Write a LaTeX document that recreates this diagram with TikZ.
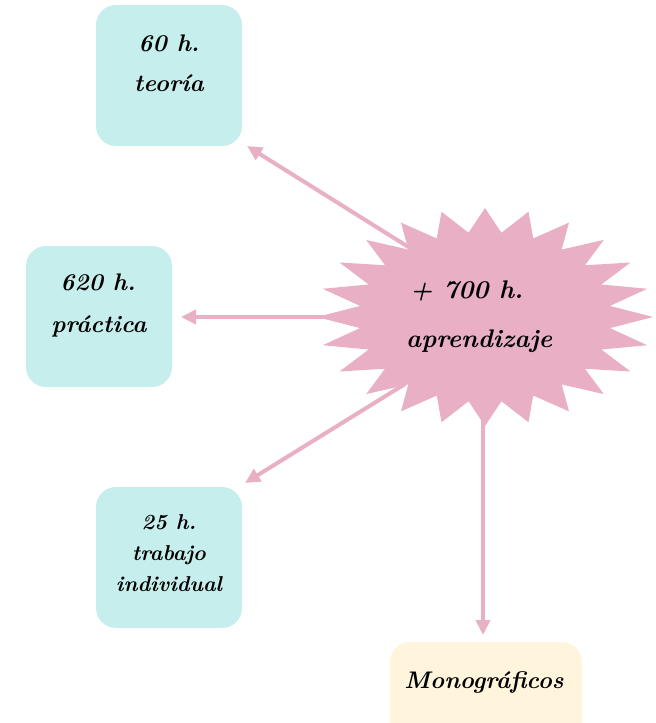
\documentclass[tikz,border=0pt]{standalone}
\usepackage{fontspec}
\usetikzlibrary{arrows.meta,calc}
\definecolor{boxcyan}{HTML}{C6EEEC}
\definecolor{starpink}{HTML}{E8AFC5}
\definecolor{boxyellow}{HTML}{FFF5DD}
\tikzset{
  box/.style={fill=boxcyan, rounded corners=20pt, minimum width=146pt, minimum height=141pt, inner sep=0pt},
  ybox/.style={fill=boxyellow, rounded corners=20pt, minimum width=192pt, minimum height=100pt, inner sep=0pt},
  lbl/.style={font=\fontsize{24}{28}\selectfont\bfseries\itshape, inner sep=0pt, anchor=base},
  biglbl/.style={font=\fontsize{25.5}{30}\selectfont\bfseries\itshape, inner sep=0pt, anchor=base west},
  slbl/.style={font=\fontsize{21.5}{24}\selectfont\bfseries\itshape, inner sep=0pt, anchor=base},
  conn/.style={draw=starpink, line width=4pt, -{Triangle[length=15pt,width=14pt]}},
}
\begin{document}
\begin{tikzpicture}[x=1pt,y=-1pt]
\useasboundingbox (0,0) rectangle (656,723);
\begin{scope}
\clip (0,0) rectangle (656,723);
% boxes
\node[box] (teo) at (169,75.5) {};
\node[box] (pra) at (99,316.5) {};
\node[box] (tra) at (169,557.5) {};
\node[ybox] (mon) at (486,692) {};
\end{scope}
% arrows (under the star)
\coordinate (c) at (485,317);
\coordinate (tip1) at (247,146);
\coordinate (tip2) at (181,317);
\coordinate (tip3) at (245,483);
\coordinate (tip4) at (483,635);
\coordinate (s1) at (410,248);
\coordinate (s2) at (340,317);
\coordinate (s3) at (405,384);
\coordinate (s4) at (483,410);
\draw[conn] (s1) -- (tip1);
\draw[conn] (s2) -- (tip2);
\draw[conn] (s3) -- (tip3);
\draw[conn] (s4) -- (tip4);
% star
\fill[starpink] ($(c)+(0:168pt and 109pt)$)
  \foreach \i in {0,...,23} { -- ($(c)+({\i*15+7.5}:126pt and 85pt)$) -- ($(c)+({\i*15+15}:168pt and 109pt)$) } -- cycle;
% texts
\node[lbl] (teo1) at (169,51) {60 h.};
\node[lbl] (teo2) at (169,91) {teoría};
\node[lbl] (pra1) at (98,290) {620 h.};
\node[lbl] (pra2) at (99,332) {práctica};
\node[slbl] (tra1) at (169,529) {25 h.};
\node[slbl] (tra2) at (169,560) {trabajo};
\node[slbl] (tra3) at (169,591) {individual};
\node[biglbl] (st1) at (410,298) {+ 700 h.};
\node[biglbl] (st2) at (406,347) {aprendizaje};
\node[lbl] (mon1) at (484,688) {Monográficos};
\end{tikzpicture}
\end{document}
